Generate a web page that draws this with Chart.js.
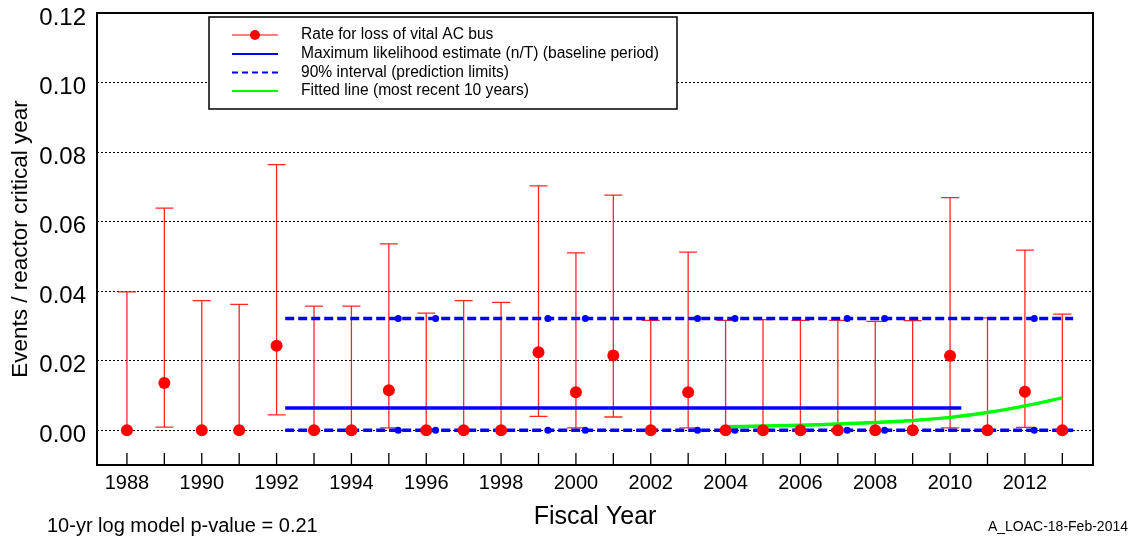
<!DOCTYPE html>
<html>
<head>
<meta charset="utf-8">
<script src="https://cdn.jsdelivr.net/npm/chart.js@4.4.0/dist/chart.umd.min.js"></script>
<style>
  body { margin: 0; background: #fff; }
  #wrap { width: 1135px; height: 541px; }
</style>
</head>
<body>
<div id="wrap"><canvas id="myChart" width="1135" height="541"></canvas></div>
<script>
// data
var years = [1988, 1989, 1990, 1991, 1992, 1993, 1994, 1995, 1996, 1997, 1998, 1999, 2000,
             2001, 2002, 2003, 2004, 2005, 2006, 2007, 2008, 2009, 2010, 2011, 2012, 2013];
var rate = [0, 0.0136, 0, 0, 0.0243, 0, 0, 0.0115, 0, 0, 0, 0.0224, 0.0109,
            0.0215, 0, 0.0109, 0, 0, 0, 0, 0, 0, 0.0214, 0, 0.0111, 0];
var lowerBound = [0, 0.0009, 0, 0, 0.0044, 0, 0, 0.0007, 0, 0, 0, 0.0040, 0.0007,
                  0.0038, 0, 0.0007, 0, 0, 0, 0, 0, 0, 0.0007, 0, 0.0008, 0];
var upperBound = [0.0398, 0.0639, 0.0373, 0.0362, 0.0764, 0.0357, 0.0357, 0.0536, 0.0337, 0.0373, 0.0368, 0.0703, 0.0510,
                  0.0676, 0.0316, 0.0512, 0.0316, 0.0318, 0.0316, 0.0316, 0.0313, 0.0315, 0.0669, 0.0323, 0.0518, 0.0334];

var baselineYears = [1992.23, 2010.3];
var mleValue = 0.0064;
var limitYears = [1992.23, 2013.29];
var upperLimit = 0.0321;
var lowerLimit = 0;
var limitMarkYears = [1995.25, 1996.25, 1999.25, 2000.25, 2003.25, 2004.25, 2007.25, 2008.25, 2012.25];

var fitYears = [2004, 2005, 2006, 2007, 2008, 2009, 2010, 2011, 2012, 2013];
var fitValues = [0.0010, 0.0012, 0.0014, 0.0018, 0.0022, 0.0028, 0.0037, 0.0051, 0.0070, 0.0093];

var xTickLabels = ['1988', '1990', '1992', '1994', '1996', '1998', '2000', '2002', '2004', '2006', '2008', '2010', '2012'];
var yTicks = [0, 0.02, 0.04, 0.06, 0.08, 0.10, 0.12];

var legendItems = [
  { text: 'Rate for loss of vital AC bus', color: '#ff0000', dash: [], dot: true },
  { text: 'Maximum likelihood estimate (n/T) (baseline period)', color: '#0000ff', dash: [], dot: false },
  { text: '90% interval (prediction limits)', color: '#0000ff', dash: [6, 4], dot: false },
  { text: 'Fitted line (most recent 10 years)', color: '#00ff00', dash: [], dot: false }
];

Chart.defaults.font.family = '"Liberation Sans", Arial, sans-serif';
Chart.defaults.color = '#000';

var FONT = '"Liberation Sans", Arial, sans-serif';

// red error bars behind the points
var errorBars = {
  id: 'errorBars',
  beforeDatasetsDraw: function(chart) {
    var ctx = chart.ctx, x = chart.scales.x, y = chart.scales.y;
    ctx.save();
    ctx.strokeStyle = 'rgba(255,0,0,0.85)';
    ctx.lineWidth = 1.3;
    for (var i = 0; i < years.length; i++) {
      var px = x.getPixelForValue(years[i]);
      var top = y.getPixelForValue(upperBound[i]);
      var bot = y.getPixelForValue(lowerBound[i]);
      ctx.beginPath();
      ctx.moveTo(px, top); ctx.lineTo(px, bot);
      ctx.moveTo(px - 9, top); ctx.lineTo(px + 9, top);
      if (lowerBound[i] > 0) {
        ctx.moveTo(px - 9, bot); ctx.lineTo(px + 9, bot);
      }
      ctx.stroke();
    }
    ctx.restore();
  }
};

// frame, inner tick marks, legend box and footer texts
var extras = {
  id: 'extras',
  afterDraw: function(chart) {
    var ctx = chart.ctx, a = chart.chartArea, x = chart.scales.x;
    ctx.save();
    ctx.strokeStyle = '#000';
    ctx.lineWidth = 2;
    ctx.setLineDash([]);
    ctx.strokeRect(a.left, a.top, a.right - a.left, a.bottom - a.top);

    ctx.lineWidth = 1.3;
    ctx.beginPath();
    for (var i = 0; i < years.length; i++) {
      var px = x.getPixelForValue(years[i]);
      ctx.moveTo(px, a.bottom);
      ctx.lineTo(px, a.bottom - 12);
    }
    ctx.stroke();

    // legend
    var lx = 209, ly = 17, lw = 468, lh = 92;
    ctx.fillStyle = '#fff';
    ctx.fillRect(lx, ly, lw, lh);
    ctx.lineWidth = 1.5;
    ctx.strokeStyle = '#000';
    ctx.strokeRect(lx, ly, lw, lh);
    ctx.font = '15.6px ' + FONT;
    ctx.textBaseline = 'middle';
    ctx.textAlign = 'left';
    var rows = [35, 54, 72.5, 91];
    legendItems.forEach(function(it, k) {
      ctx.strokeStyle = it.color;
      ctx.lineWidth = it.dot ? 1.2 : 2;
      ctx.setLineDash(it.dash);
      ctx.beginPath();
      ctx.moveTo(232, rows[k]);
      ctx.lineTo(278, rows[k]);
      ctx.stroke();
      ctx.setLineDash([]);
      if (it.dot) {
        ctx.fillStyle = it.color;
        ctx.beginPath();
        ctx.arc(255, rows[k], 5, 0, Math.PI * 2);
        ctx.fill();
      }
      ctx.fillStyle = '#000';
      ctx.fillText(it.text, 301, rows[k]);
    });

    // footer
    ctx.textBaseline = 'alphabetic';
    ctx.font = '20px ' + FONT;
    ctx.fillText('10-yr log model p-value = 0.21', 47, 532);
    ctx.font = '14px ' + FONT;
    ctx.textAlign = 'right';
    ctx.fillText('A_LOAC-18-Feb-2014', 1128, 531);
    ctx.restore();
  }
};

var ratePoints = years.map(function(v, i) { return { x: v, y: rate[i] }; });
var fitPoints = fitYears.map(function(v, i) { return { x: v, y: fitValues[i] }; });
var markPoints = [];
limitMarkYears.forEach(function(v) {
  markPoints.push({ x: v, y: upperLimit });
  markPoints.push({ x: v, y: lowerLimit });
});

var ctx = document.getElementById('myChart');

var myChart = new Chart(ctx, {
  type: 'line',
  data: {
    datasets: [
      {
        label: 'Rate for loss of vital AC bus',
        data: ratePoints,
        showLine: false,
        backgroundColor: '#ff0000',
        borderColor: '#ff0000',
        pointRadius: 6,
        pointBorderWidth: 0,
        order: 0
      },
      {
        label: 'Fitted line (most recent 10 years)',
        data: fitPoints,
        borderColor: '#00ff00',
        borderWidth: 3.5,
        pointRadius: 0,
        cubicInterpolationMode: 'monotone',
        fill: false,
        order: 1
      },
      {
        label: 'Maximum likelihood estimate (n/T) (baseline period)',
        data: baselineYears.map(function(v) { return { x: v, y: mleValue }; }),
        borderColor: '#0000ff',
        borderWidth: 3.5,
        pointRadius: 0,
        fill: false,
        order: 2
      },
      {
        label: '90% interval upper',
        data: limitYears.map(function(v) { return { x: v, y: upperLimit }; }),
        borderColor: '#0000ff',
        borderWidth: 3.5,
        borderDash: [9, 4],
        pointRadius: 0,
        fill: false,
        order: 3
      },
      {
        label: '90% interval lower',
        data: limitYears.map(function(v) { return { x: v, y: lowerLimit }; }),
        borderColor: '#0000ff',
        borderWidth: 3.5,
        borderDash: [9, 4],
        pointRadius: 0,
        fill: false,
        order: 3
      },
      {
        label: 'limit marks',
        data: markPoints,
        showLine: false,
        backgroundColor: '#0000ff',
        borderColor: '#0000ff',
        pointRadius: 3.5,
        pointBorderWidth: 0,
        order: 3
      }
    ]
  },
  options: {
    responsive: false,
    animation: false,
    layout: { padding: { top: 13, right: 42, left: 0, bottom: 0 } },
    plugins: { legend: { display: false }, tooltip: { enabled: false } },
    scales: {
      x: {
        type: 'linear',
        min: 1987.2,
        max: 2013.82,
        afterBuildTicks: function(s) { s.ticks = years.map(function(v) { return { value: v }; }); },
        afterFit: function(s) { s.height = 76; s.paddingLeft = 0; s.paddingRight = 0; },
        grid: { display: false, drawTicks: false },
        border: { display: false },
        ticks: {
          autoSkip: false,
          maxRotation: 0,
          padding: 6,
          font: { size: 20 },
          callback: function(v) {
            var s = String(v);
            return xTickLabels.indexOf(s) >= 0 ? s : '';
          }
        },
        title: {
          display: true,
          text: 'Fiscal Year',
          font: { size: 25 },
          padding: { top: 0, bottom: 9 }
        }
      },
      y: {
        min: -0.01,
        max: 0.12,
        afterBuildTicks: function(s) { s.ticks = yTicks.map(function(v) { return { value: v }; }); },
        afterFit: function(s) { s.width = 97; s.paddingTop = 0; s.paddingBottom = 0; },
        grid: { color: '#000', lineWidth: 1, drawTicks: false },
        border: { display: false, dash: [2, 2] },
        ticks: {
          padding: 11,
          labelOffset: 5,
          font: { size: 24 },
          callback: function(v) { return v.toFixed(2); }
        },
        title: {
          display: true,
          text: 'Events / reactor critical year',
          font: { size: 22.5 },
          padding: { top: 7, bottom: 0 }
        }
      }
    }
  },
  plugins: [errorBars, extras]
});
</script>
</body>
</html>
